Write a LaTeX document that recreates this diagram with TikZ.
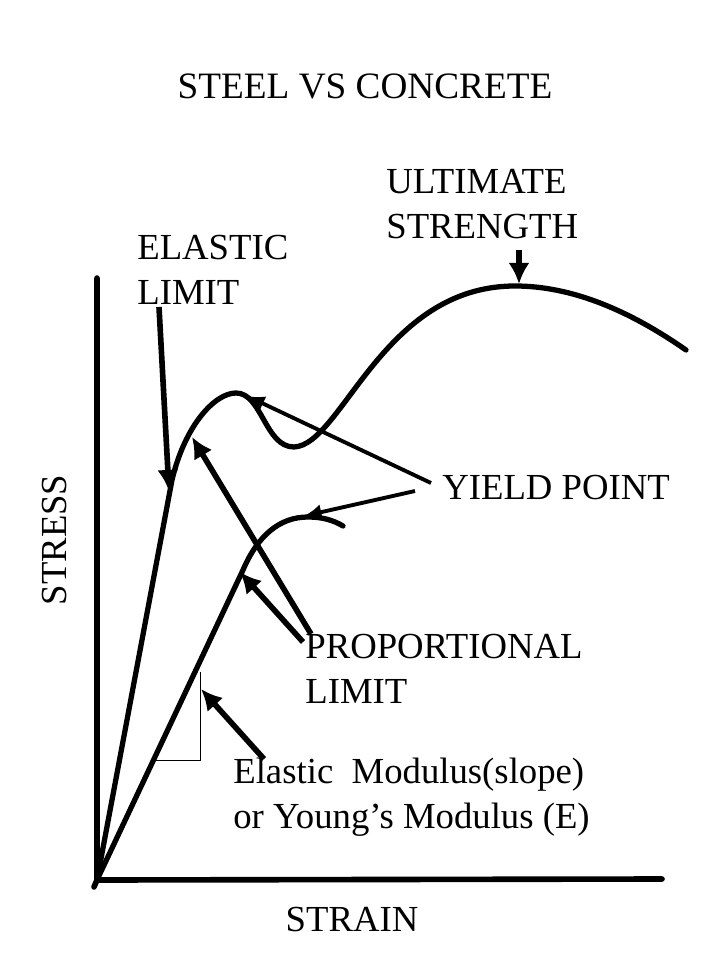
\documentclass[tikz,border=0pt]{standalone}
\usepackage{fontspec}
\setmainfont{Liberation Serif}
\usetikzlibrary{arrows.meta}

\tikzset{
  axisline/.style={line width=3.2pt,line cap=round},
  curveline/.style={line width=3pt,line cap=round},
  heavyarrow/.style={line width=3.2pt,-{Latex[length=12pt,width=12pt]}},
  thinarrow/.style={line width=2.2pt,-{Latex[length=10pt,width=9pt]}},
  lbl/.style={inner sep=0pt,align=left,font=\fontsize{20.9}{25.6}\selectfont},
}

\begin{document}
\begin{tikzpicture}[x=0.02cm,y=-0.02cm]
    \useasboundingbox (0,0) rectangle (720,960);
    \coordinate (origin) at (97,880);
    \draw [axisline] (97,278) -- (origin) -- (662,879);% Axes
    \draw [axisline] (origin) -- (94,887);
    % Steel curve
    \draw [curveline] (origin) -- (172,480)
        .. controls (185,425) and (215,393) .. (236,393)
        .. controls (262,393) and (265,447) .. (294,447)
        .. controls (342,445) and (382,286) .. (515,286)
        .. controls (580,286) and (640,318) .. (686,350);
    % Concrete curve
    \draw [curveline] (origin) -- (243,570)
        .. controls (258,535) and (280,517) .. (308,517)
        .. controls (322,517) and (333,520) .. (343,526);
    \draw [thin] (155,760) -- (200,760) -- (200,672);% Slope triangle

    % Labels
    \node [lbl,anchor=center,font=\fontsize{21.2}{25.6}\selectfont] (title) at (365,86) {STEEL VS CONCRETE};
    \node [lbl,anchor=north west] (ultimate) at (386,169) {ULTIMATE\\STRENGTH};
    \node [lbl,anchor=north west] (elastic) at (137,235) {ELASTIC\\LIMIT};
    \node [lbl,anchor=west] (yield) at (442,488) {YIELD POINT};
    \node [lbl,anchor=north west] (proportional) at (305,634) {PROPORTIONAL\\LIMIT};
    \node [lbl,anchor=north west] (modulus) at (233,758) {Elastic\ \ Modulus(slope)\\or Young’s Modulus (E)};
    \node [lbl,anchor=center] (strain) at (352,920) {STRAIN};
    \node [lbl,anchor=center,rotate=90] (stress) at (55,540) {STRESS};

    % Arrow ends
    \coordinate (ultimatefrom) at (519,250);
    \coordinate (ultimatetip) at (519,284);
    \coordinate (elasticfrom) at (159,307);
    \coordinate (elastictip) at (169,491);
    \coordinate (steelpropfrom) at (311,634);
    \coordinate (steelproptip) at (192,437);
    \coordinate (concpropfrom) at (303,642);
    \coordinate (concproptip) at (240,572);
    \coordinate (steelyieldfrom) at (431,483);
    \coordinate (steelyieldtip) at (247,396);
    \coordinate (concyieldfrom) at (415,491);
    \coordinate (concyieldtip) at (304,516);
    \coordinate (modulusfrom) at (264,759);
    \coordinate (modulustip) at (201,689);

    \draw [heavyarrow] (ultimatefrom) -- (ultimatetip);
    \draw [heavyarrow] (elasticfrom) -- (elastictip);
    \draw [heavyarrow] (steelpropfrom) -- (steelproptip);
    \draw [heavyarrow] (concpropfrom) -- (concproptip);
    \draw [thinarrow] (steelyieldfrom) -- (steelyieldtip);
    \draw [thinarrow] (concyieldfrom) -- (concyieldtip);
    \draw [heavyarrow] (modulusfrom) -- (modulustip);
\end{tikzpicture}
\end{document}
